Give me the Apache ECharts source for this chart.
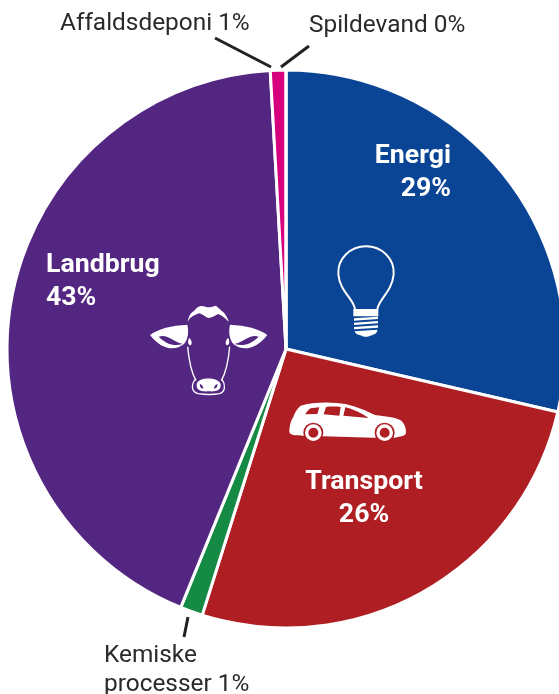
<!DOCTYPE html>
<html><head><meta charset="utf-8">
<style>html,body{margin:0;padding:0;background:#fff}#c{width:559px;height:694px}</style>
<script src="https://cdn.jsdelivr.net/npm/echarts@6/dist/echarts.min.js"></script>
</head><body><div id="c"></div>
<script>
const categories = ['Energi','Transport','Kemiske\nprocesser','Landbrug','Affaldsdeponi','Spildevand'];
const values = [28.6,26.2,1.3,42.9,0.9,0];
const shownPercent = ['29%','26%','1%','43%','1%','0%'];
const colors = ['#0a4595','#ae1e23','#158a45','#532681','#d6007f','#888888'];

const layouts = [
 {x:451,y:173,align:'right'},
 {x:364,y:499,align:'center'},
 {x:104,y:670,align:'left'},
 {x:46,y:282,align:'left'},
 {x:60,y:24,align:'left'},
 {x:309,y:26,align:'left'}
];
const inside = [true,true,false,true,false,false];

const iconPaths = {
 cowEar:'M30 135 C55 116 95 106 142 104 C147 125 144 148 132 162 C105 184 65 180 30 135 Z',
 cowEarHole:'M56 140 C78 162 102 170 128 162 C112 158 96 146 80 140 C72 137 64 137 56 140 Z',
 cowFace:'M143 170 C146 205 150 240 168 272 M269 170 C266 205 262 240 244 272',
 cowTop:'M143 95 C146 78 152 68 163 62 C170 50 184 44 196 50 C206 54 218 50 228 47 C238 55 244 62 252 68 C258 76 264 84 266 96 C256 84 246 76 234 72 C226 76 215 84 205 84 C196 82 188 72 178 70 C165 74 152 80 143 95 Z',
 cowNose:'M170 282 C175 260 235 260 242 282 C244 300 230 306 206 304 C182 306 168 300 170 282 Z',
 cowNostrils:'M180 282 C186 284 190 290 190 296 C184 296 178 290 180 282 Z M232 282 C226 284 222 290 222 296 C228 296 234 290 232 282 Z',
 cowMuzzle:'M166 268 C154 282 152 306 175 311 C195 314 220 314 238 311 C258 306 256 282 246 268',
 cowEye:'M148 143 C154 150 158 158 152 166 C146 166 140 156 148 143 Z',
 bulbOutline:'M105 222 C100 190 60 170 55 118 C52 70 92 34 138 34 C184 34 224 70 221 118 C216 170 178 190 172 222',
 bulbBase:'M100 222 L175 222 L175 244 L100 244 Z M102 250 L174 245 L174 252 L102 257 Z M102 263 L174 258 L174 265 L102 270 Z M102 276 L174 271 L174 278 L102 283 Z M104 289 L172 284 C172 296 160 300 150 302 C145 306 130 306 125 302 C115 300 106 298 104 289 Z',
 carBody:'M28 112 C28 96 32 76 40 66 C44 52 52 40 62 32 C90 24 130 20 170 24 C205 26 240 38 285 60 C315 64 345 66 362 76 C372 84 378 96 378 112 C378 120 372 124 345 128 L280 128 L130 124 L68 122 C55 122 30 122 28 112 Z',
 carWindows:'M76 58 C80 50 86 44 92 40 L118 37 L112 57 Z M131 58 L138 36 C152 34 168 34 182 36 L178 62 Z M190 62 L196 37 C220 42 245 55 266 69 Z'
};
Object.keys(iconPaths).forEach(k=>echarts.graphic.registerShape(k,echarts.graphic.extendPath(iconPaths[k],{})));

function iconGroup(originX, originY, children){
  return {type:'group', x:originX, y:originY, scaleX:1/3, scaleY:1/3, silent:true, children};
}
const fill = {fill:'#fff', stroke:null};
const graphic = [
  {type:'line',silent:true,z:10,shape:{x1:215,y1:38,x2:271,y2:67},style:{stroke:'#222',lineWidth:3}},
  {type:'line',silent:true,z:10,shape:{x1:309,y1:46,x2:281,y2:67},style:{stroke:'#222',lineWidth:3}},
  {type:'line',silent:true,z:10,shape:{x1:188,y1:617,x2:184,y2:637},style:{stroke:'#222',lineWidth:3}},
  {type:'group',silent:true,z:10,children:[
  iconGroup(140,290,[
    {type:'cowEar',z:10,style:fill},
    {type:'cowEarHole',z:10,style:{fill:'#532681'}},
    {type:'cowEar',z:10,x:412,scaleX:-1,style:fill},
    {type:'cowEarHole',z:10,x:412,scaleX:-1,style:{fill:'#532681'}},
    {type:'cowTop',z:10,style:fill},
    {type:'cowFace',z:10,style:{fill:null,stroke:'#fff',lineWidth:4}},
    {type:'cowNose',z:10,style:fill},
    {type:'cowNostrils',z:10,style:{fill:'#532681'}},
    {type:'cowMuzzle',z:10,style:{fill:null,stroke:'#fff',lineWidth:4}},
    {type:'cowEye',z:10,style:fill},
    {type:'cowEye',z:10,x:412,scaleX:-1,style:fill}
  ]),
  iconGroup(320,235,[
    {type:'bulbOutline',z:10,style:{fill:null,stroke:'#fff',lineWidth:6}},
    {type:'bulbBase',z:10,style:fill}
  ]),
  iconGroup(280,395,[
    {type:'carBody',z:10,style:fill},
    {type:'carWindows',z:10,style:{fill:'#ae1e23'}},
    {type:'circle',z:10,shape:{cx:100,cy:113,r:30},style:{fill:'#ae1e23'}},
    {type:'circle',z:10,shape:{cx:314,cy:113,r:30},style:{fill:'#ae1e23'}},
    {type:'circle',z:10,shape:{cx:100,cy:113,r:20},style:{fill:'#ae1e23',stroke:'#fff',lineWidth:10}},
    {type:'circle',z:10,shape:{cx:314,cy:113,r:20},style:{fill:'#ae1e23',stroke:'#fff',lineWidth:10}}
  ])]}
];

const chart = echarts.init(document.getElementById('c'),null,{renderer:'canvas'});
chart.setOption({
  animation:false,
  graphic,
  series:[{
    type:'pie',
    center:[286,349],
    radius:[0,279],
    startAngle:90,
    clockwise:true,
    silent:true,
    avoidLabelOverlap:false,
    itemStyle:{borderColor:'#fff',borderWidth:3},
    labelLine:{show:false},
    labelLayout(p){ const l=layouts[p.dataIndex]; return {x:l.x,y:l.y,align:l.align,verticalAlign:'middle'}; },
    data:categories.map((name,i)=>({
      name,value:values[i],
      itemStyle:{color:colors[i]},
      label:{
        show:true,position:inside[i]?'inside':'outside',
        formatter:inside[i]?name+'\n'+shownPercent[i]:name+' '+shownPercent[i],
        align:layouts[i].align,
        fontFamily:'Roboto',
        fontSize:inside[i]?26.7:24.4,
        fontWeight:inside[i]?'bold':'normal',
        lineHeight:inside[i]?33:29,
        color:inside[i]?'#fff':'#2a2a2a'
      }
    }))
  }]
});
</script></body></html>
